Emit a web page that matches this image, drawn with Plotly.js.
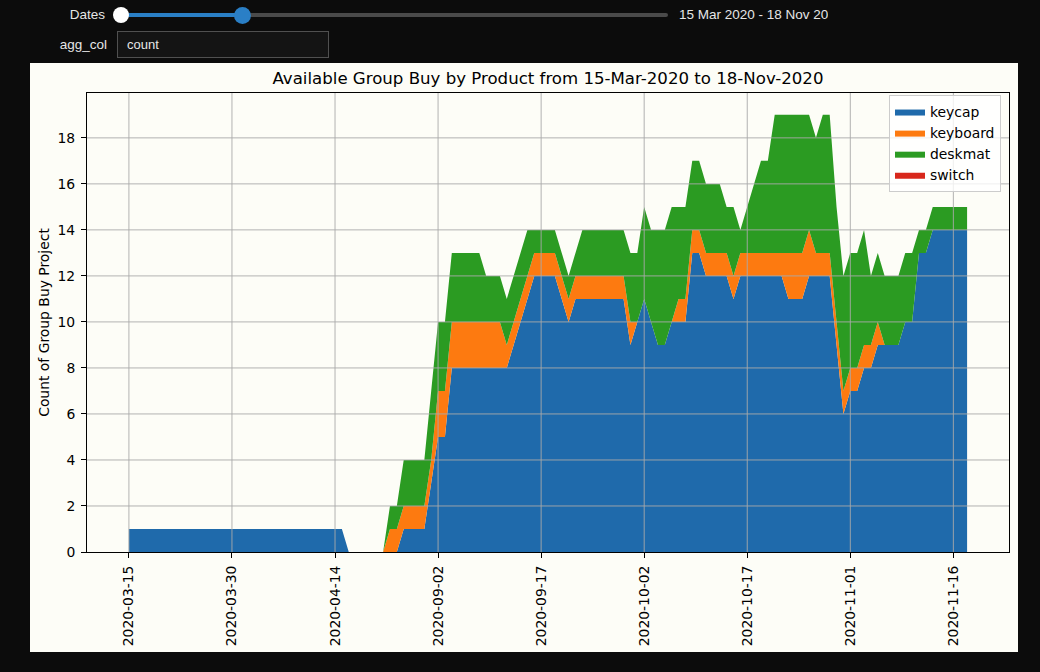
<!DOCTYPE html>
<html>
<head>
<meta charset="utf-8">
<script src="https://cdn.plot.ly/plotly-3.0.1.min.js"></script>
<style>
  body { margin: 0; width: 1040px; height: 672px; background: #0c0c0c; overflow: hidden;
         font-family: "Liberation Sans", Arial, sans-serif; }
  .lbl { position: absolute; color: #e6e6e6; font-size: 13.5px; text-align: right; line-height: 16px; }
  .knob { position: absolute; border-radius: 50%; }
</style>
</head>
<body>
<div class="lbl" style="left:30px; top:7px; width:75px;">Dates</div>
<div style="position:absolute; left:121px; top:13px; width:547px; height:4px; background:#4a4a4a; border-radius:2px;"></div>
<div style="position:absolute; left:121px; top:13px; width:122px; height:4px; background:#2a7fc6;"></div>
<div class="knob" style="left:113px; top:7px; width:16px; height:16px; background:#ffffff;"></div>
<div class="knob" style="left:234px; top:7px; width:17px; height:17px; background:#2a7fc6;"></div>
<!-- the date range readout is clipped by its box in the original widget too -->
<div class="lbl" style="left:679px; top:7px; width:149px; text-align:left; overflow:hidden; white-space:nowrap;">15 Mar 2020 - 18 Nov 2020</div>
<div class="lbl" style="left:30px; top:37px; width:77px;">agg_col</div>
<div style="position:absolute; left:117px; top:31px; width:201px; height:25px; border:1px solid #505050; background:#141414;
            color:#e6e6e6; font-size:13px; line-height:25px; padding-left:9px;">count</div>
<div id="group_buy_graph" style="position:absolute; left:30px; top:63px; width:988px; height:589px;"></div>

<script>
var dates = [
    '2020-03-15','2020-03-16','2020-03-17','2020-03-18','2020-03-19','2020-03-20','2020-03-21','2020-03-22','2020-03-23','2020-03-24',
    '2020-03-25','2020-03-26','2020-03-27','2020-03-28','2020-03-29','2020-03-30','2020-03-31','2020-04-01','2020-04-02','2020-04-03',
    '2020-04-04','2020-04-05','2020-04-06','2020-04-07','2020-04-08','2020-04-09','2020-04-10','2020-04-11','2020-04-12','2020-04-13',
    '2020-04-14','2020-04-15','2020-04-16','2020-04-17','2020-04-18','2020-04-19','2020-04-20','2020-08-25','2020-08-26','2020-08-27',
    '2020-08-28','2020-08-29','2020-08-30','2020-08-31','2020-09-01','2020-09-02','2020-09-03','2020-09-04','2020-09-05','2020-09-06',
    '2020-09-07','2020-09-08','2020-09-09','2020-09-10','2020-09-11','2020-09-12','2020-09-13','2020-09-14','2020-09-15','2020-09-16',
    '2020-09-17','2020-09-18','2020-09-19','2020-09-20','2020-09-21','2020-09-22','2020-09-23','2020-09-24','2020-09-25','2020-09-26',
    '2020-09-27','2020-09-28','2020-09-29','2020-09-30','2020-10-01','2020-10-02','2020-10-03','2020-10-04','2020-10-05','2020-10-06',
    '2020-10-07','2020-10-08','2020-10-09','2020-10-10','2020-10-11','2020-10-12','2020-10-13','2020-10-14','2020-10-15','2020-10-16',
    '2020-10-17','2020-10-18','2020-10-19','2020-10-20','2020-10-21','2020-10-22','2020-10-23','2020-10-24','2020-10-25','2020-10-26',
    '2020-10-27','2020-10-28','2020-10-29','2020-10-30','2020-10-31','2020-11-01','2020-11-02','2020-11-03','2020-11-04','2020-11-05',
    '2020-11-06','2020-11-07','2020-11-08','2020-11-09','2020-11-10','2020-11-11','2020-11-12','2020-11-13','2020-11-14','2020-11-15',
    '2020-11-16','2020-11-17','2020-11-18'
];

var keycap = [
    1,1,1,1,1,1,1,1,1,1,
    1,1,1,1,1,1,1,1,1,1,
    1,1,1,1,1,1,1,1,1,1,
    1,1,0,0,0,0,0,0,0,0,
    1,1,1,1,3,5,5,8,8,8,
    8,8,8,8,8,8,9,10,11,12,
    12,12,12,11,10,11,11,11,11,11,
    11,11,11,9,10,11,10,9,9,10,
    10,10,13,13,12,12,12,12,11,12,
    12,12,12,12,12,12,11,11,11,12,
    12,12,12,9,6,7,7,8,8,9,
    9,9,9,10,10,13,13,14,14,14,
    14,14,14
];

var keyboard = [
    0,0,0,0,0,0,0,0,0,0,
    0,0,0,0,0,0,0,0,0,0,
    0,0,0,0,0,0,0,0,0,0,
    0,0,0,0,0,0,0,0,1,1,
    1,1,1,1,1,2,2,2,2,2,
    2,2,2,2,2,1,1,1,1,1,
    1,1,1,1,1,1,1,1,1,1,
    1,1,1,1,0,0,0,0,0,0,
    1,1,1,1,1,1,1,1,1,1,
    1,1,1,1,1,1,2,2,2,2,
    1,1,1,1,1,1,1,1,1,1,
    0,0,0,0,0,0,0,0,0,0,
    0,0,0
];

var deskmat = [
    0,0,0,0,0,0,0,0,0,0,
    0,0,0,0,0,0,0,0,0,0,
    0,0,0,0,0,0,0,0,0,0,
    0,0,0,0,0,0,0,0,1,1,
    2,2,2,2,3,3,3,3,3,3,
    3,3,2,2,2,2,2,2,2,1,
    1,1,1,1,1,1,2,2,2,2,
    2,2,2,3,3,4,4,5,5,5,
    4,4,3,3,3,3,3,2,3,1,
    2,3,4,4,6,6,6,6,6,5,
    5,6,6,5,5,5,5,5,3,3,
    3,3,3,3,3,1,1,1,1,1,
    1,1,1
];

var switches = [
    0,0,0,0,0,0,0,0,0,0,
    0,0,0,0,0,0,0,0,0,0,
    0,0,0,0,0,0,0,0,0,0,
    0,0,0,0,0,0,0,0,0,0,
    0,0,0,0,0,0,0,0,0,0,
    0,0,0,0,0,0,0,0,0,0,
    0,0,0,0,0,0,0,0,0,0,
    0,0,0,0,0,0,0,0,0,0,
    0,0,0,0,0,0,0,0,0,0,
    0,0,0,0,0,0,0,0,0,0,
    0,0,0,0,0,0,0,0,0,0,
    0,0,0,0,0,0,0,0,0,0,
    0,0,0
];

var productNames = ['keycap', 'keyboard', 'deskmat', 'switch'];
var productColors = ['#1f6aab', '#fd7a10', '#2b9b22', '#d8281c'];

var tickDates = ['2020-03-15','2020-03-30','2020-04-14','2020-09-02','2020-09-17','2020-10-02','2020-10-17','2020-11-01','2020-11-16'];
var countTicks = [0, 2, 4, 6, 8, 10, 12, 14, 16, 18];

var gridColor = '#a9a9a9';
var panelColor = '#fdfdf7';


function areaTrace(name, values, color) {
    return {
        x: dates,
        y: values,
        name: name,
        type: 'scatter',
        mode: 'lines',
        stackgroup: 'products',
        fillcolor: color,
        line: {width: 0, color: color, shape: 'linear'},
        hoverinfo: 'skip'
    };
}

// matplotlib draws its grid over the filled areas, so the grid goes in as shapes above the traces
function makeGridShapes() {
    var shapes = [];
    for (i = 0; i < tickDates.length; i++) {
        var xi = dates.indexOf(tickDates[i]);
        shapes.push({
            type: 'line', layer: 'above',
            xref: 'x', yref: 'paper',
            x0: xi, x1: xi, y0: 0, y1: 1,
            line: {color: gridColor, width: 0.9}
        });
    }
    for (i = 0; i < countTicks.length; i++) {
        if (countTicks[i] <= 0) continue;
        shapes.push({
            type: 'line', layer: 'above',
            xref: 'paper', yref: 'y',
            x0: 0, x1: 1, y0: countTicks[i], y1: countTicks[i],
            line: {color: gridColor, width: 0.9}
        });
    }
    return shapes;
}

var groupBuyData = [
    areaTrace(productNames[0], keycap, productColors[0]),
    areaTrace(productNames[1], keyboard, productColors[1]),
    areaTrace(productNames[2], deskmat, productColors[2]),
    areaTrace(productNames[3], switches, productColors[3])
];

var groupBuyLayout = {
    width: 988,
    height: 589,
    margin: {l: 57, r: 9, t: 30, b: 100, pad: 0},
    paper_bgcolor: panelColor,
    plot_bgcolor: panelColor,
    font: {family: 'DejaVu Sans', size: 13.9, color: '#000000'},
    title: {
        text: 'Available Group Buy by Product from 15-Mar-2020 to 18-Nov-2020',
        font: {family: 'DejaVu Sans', size: 16.6, color: '#000000'},
        x: 0.5,
        xref: 'paper',
        xanchor: 'center',
        y: 1 - 15 / 589,
        yref: 'container',
        yanchor: 'middle'
    },
    showlegend: true,
    hovermode: false,
    legend: {
        x: 1 - 8 / 922,
        xanchor: 'right',
        y: 1 - 2 / 459,
        yanchor: 'top',
        traceorder: 'normal',
        bgcolor: 'rgba(255,255,255,0.8)',
        bordercolor: '#cccccc',
        borderwidth: 1,
        font: {family: 'DejaVu Sans', size: 13.9, color: '#000000'}
    },
    xaxis: {
        type: 'category',
        categoryorder: 'array',
        categoryarray: dates,
        range: [-6.1, 128.1],
        tickmode: 'array',
        tickvals: tickDates,
        ticktext: tickDates,
        tickangle: -90,
        ticks: 'outside',
        ticklen: 5,
        tickwidth: 1,
        tickcolor: '#000000',
        ticklabelstandoff: 2,
        showgrid: false,
        zeroline: false,
        showline: true,
        mirror: true,
        linecolor: '#000000',
        linewidth: 1,
        layer: 'above traces',
        fixedrange: true
    },
    yaxis: {
        range: [0, 19.95],
        tickmode: 'array',
        tickvals: countTicks,
        ticks: 'outside',
        ticklen: 5,
        tickwidth: 1,
        tickcolor: '#000000',
        ticklabelstandoff: 3,
        showgrid: false,
        zeroline: false,
        showline: true,
        mirror: true,
        linecolor: '#000000',
        linewidth: 1,
        layer: 'above traces',
        fixedrange: true,
        title: {
            text: 'Count of Group Buy Project',
            font: {family: 'DejaVu Sans', size: 13.9, color: '#000000'},
            standoff: 4
        }
    },
    shapes: makeGridShapes()
};

Plotly.newPlot('group_buy_graph', groupBuyData, groupBuyLayout, {displayModeBar: false, staticPlot: true});
</script>
</body>
</html>
